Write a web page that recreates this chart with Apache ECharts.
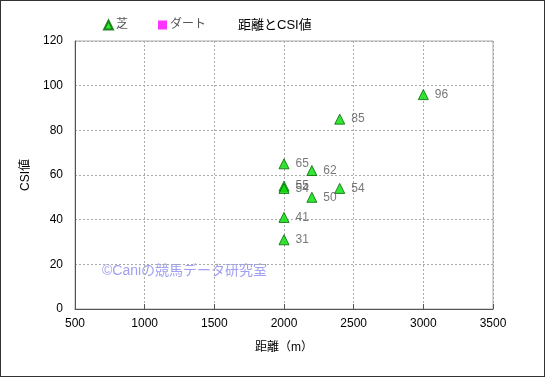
<!DOCTYPE html>
<html lang="ja">
<head>
  <meta charset="UTF-8">
  <script src="https://cdn.jsdelivr.net/npm/echarts@6/dist/echarts.min.js"></script>
  <title>距離とCSI値</title>
  <style>
    html, body { margin: 0; padding: 0; }
    #main { width: 543px; height: 375px; border: 1px solid #333; }
  </style>
</head>
<body>
  <div id="main"></div>
  <script>
    // 芝 (distance m, CSI)
    var turfDist = [2000, 2000, 2000, 2000, 2000, 2200, 2200, 2400, 2400, 3000]
    var turfCsi = [65, 55, 54, 41, 31, 62, 50, 54, 85, 96]
    // ダート: no data
    var dirtDist = []
    var dirtCsi = []

    var font = '"Liberation Sans", "Noto Sans CJK JP", sans-serif'

    var pairs = (xs, ys) => xs.map((x, i) => [x, ys[i]])

    var myChart = echarts.init(document.getElementById('main'))

    var option = {
      animation: false,
      title: {
        text: '距離とCSI値',
        left: 232, top: 13,
        textStyle: { fontFamily: font, fontSize: 13, fontWeight: 'normal', color: '#000' }
      },
      legend: {
        left: 97, top: 13,
        itemGap: 30,
        itemWidth: 9, itemHeight: 9,
        textStyle: { fontFamily: font, fontSize: 12, color: '#555', padding: [0, 0, 0, -2] },
        data: [
          { name: '芝', icon: 'triangle' },
          { name: 'ダート', icon: 'rect' }
        ]
      },
      grid: { left: 74, top: 40, right: 51, bottom: 67 },
      xAxis: {
        type: 'value', min: 500, max: 3500, interval: 500,
        name: '距離（m）', nameLocation: 'middle', nameGap: 33,
        nameTextStyle: { fontFamily: font, fontSize: 12, color: '#000' },
        axisLine: { lineStyle: { color: '#555' } },
        axisTick: { inside: true, length: 5, lineStyle: { color: '#555' } },
        axisLabel: { fontFamily: font, fontSize: 12, color: '#000', margin: 9, formatter: v => String(v) },
        splitLine: { lineStyle: { type: [2, 2], color: '#aaa' } }
      },
      yAxis: {
        type: 'value', min: 0, max: 120, interval: 20,
        name: 'CSI値', nameLocation: 'middle', nameGap: 42,
        nameTextStyle: { fontFamily: font, fontSize: 12, color: '#000' },
        axisLine: { show: true, lineStyle: { color: '#555' } },
        axisTick: { show: false },
        axisLabel: { fontFamily: font, fontSize: 12, color: '#000', margin: 12 },
        splitLine: { lineStyle: { type: [2, 2], color: '#aaa' } }
      },
      graphic: [
        {
          type: 'rect', z: 0, silent: true,
          shape: { x: 74, y: 40, width: 418, height: 268 },
          style: { fill: 'none', stroke: '#aaa', lineWidth: 1 }
        },
        {
          type: 'text', left: 101, top: 263, silent: true,
          style: { text: '©Caniの競馬データ研究室', font: '14px ' + font, fill: '#a0a0f0' }
        }
      ],
      series: [
        {
          name: '芝', type: 'scatter',
          symbol: 'triangle', symbolSize: 10,
          itemStyle: { color: '#00e000', borderColor: '#006600', borderWidth: 1 },
          label: {
            show: true, position: 'right', distance: 6,
            formatter: p => p.value[1],
            fontFamily: font, fontSize: 12, color: '#555'
          },
          data: pairs(turfDist, turfCsi)
        },
        {
          name: 'ダート', type: 'scatter',
          symbol: 'rect', symbolSize: 8,
          itemStyle: { color: '#ff00ff' },
          data: pairs(dirtDist, dirtCsi)
        }
      ]
    }

    myChart.setOption(option)
  </script>
</body>
</html>
